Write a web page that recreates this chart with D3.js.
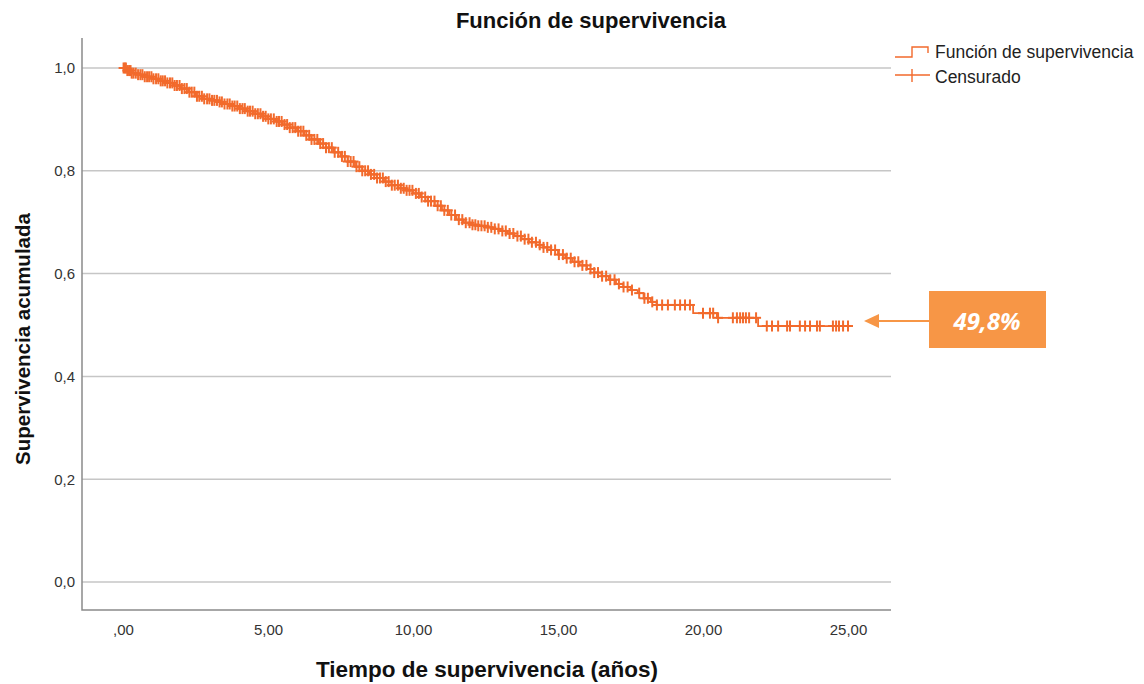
<!DOCTYPE html>
<html><head><meta charset="utf-8">
<script src="https://cdn.jsdelivr.net/npm/d3@7/dist/d3.min.js"></script>
<style>
html,body{margin:0;padding:0;background:#fff;}
svg{display:block;font-family:"Liberation Sans",Arial,sans-serif;}
</style></head><body>
<svg id="c" width="1144" height="684"></svg>
<script>
// Kaplan-Meier step data (time in years, cumulative survival)
const stepTimes = [0,0.15,0.3,0.5,0.75,1.0,1.25,1.5,1.75,2.0,2.25,2.5,2.75,3.0,3.25,3.5,3.75,4.0,4.25,4.5,4.75,5.0,5.25,5.5,5.75,6.0,6.25,6.5,6.75,7.0,7.25,7.5,7.75,8.0,8.25,8.5,8.75,9.0,9.25,9.5,9.75,10.0,10.25,10.5,10.75,11.0,11.25,11.5,11.75,12.0,12.25,12.5,12.75,13.0,13.25,13.5,13.75,14.0,14.25,14.5,14.75,15.0,15.25,15.5,15.75,16.0,16.25,16.5,16.75,17.0,17.25,17.5,17.75,17.95,18.2,18.4,19.66,20.48,21.9];
const stepSurv  = [1.000,0.995,0.990,0.987,0.983,0.979,0.975,0.971,0.966,0.960,0.953,0.945,0.940,0.937,0.934,0.930,0.926,0.921,0.916,0.911,0.906,0.901,0.896,0.890,0.884,0.877,0.869,0.861,0.853,0.845,0.836,0.828,0.818,0.808,0.800,0.793,0.786,0.779,0.772,0.766,0.762,0.756,0.749,0.741,0.732,0.723,0.714,0.705,0.699,0.695,0.693,0.690,0.687,0.683,0.678,0.673,0.667,0.661,0.656,0.651,0.646,0.637,0.630,0.623,0.616,0.609,0.602,0.595,0.588,0.580,0.574,0.568,0.562,0.552,0.545,0.539,0.523,0.514,0.498];
const endTime = 25.1;
const censorTimes = [0.02,0.06,0.1,0.15,0.21,0.26,0.3,0.36,0.44,0.52,0.6,0.67,0.75,0.83,0.9,0.98,1.05,1.14,1.22,1.3,1.37,1.45,1.53,1.62,1.7,1.78,1.86,1.95,2.03,2.12,2.2,2.29,2.37,2.46,2.55,2.63,2.72,2.8,2.9,2.98,3.07,3.15,3.24,3.33,3.41,3.5,3.6,3.68,3.77,3.85,3.94,4.03,4.12,4.2,4.3,4.38,4.47,4.56,4.65,4.74,4.83,4.92,5.01,5.1,5.2,5.3,5.38,5.47,5.57,5.66,5.75,5.85,5.94,6.04,6.13,6.22,6.32,6.42,6.5,6.6,6.7,6.8,6.9,7.0,7.1,7.2,7.3,7.42,7.55,7.65,7.75,7.85,7.95,8.05,8.15,8.25,8.35,8.45,8.55,8.66,8.76,8.86,8.96,9.06,9.16,9.27,9.37,9.48,9.58,9.68,9.78,9.88,9.98,10.1,10.2,10.3,10.42,10.52,10.62,10.74,10.85,10.96,11.08,11.2,11.32,11.45,11.58,11.7,11.82,11.95,12.05,12.15,12.25,12.36,12.47,12.58,12.7,12.82,12.95,13.08,13.2,13.33,13.46,13.6,13.72,13.85,13.98,14.1,14.24,14.37,14.5,14.63,14.76,14.9,15.03,15.17,15.3,15.44,15.57,15.7,15.84,15.98,16.12,16.25,16.38,16.52,16.66,16.8,16.95,17.1,17.26,17.4,17.55,17.8,17.98,18.1,18.25,18.41,18.59,18.79,19.03,19.21,19.38,19.55,20.0,20.24,20.35,20.52,21.03,21.17,21.28,21.38,21.48,21.59,21.83,22.2,22.38,22.59,22.9,23.0,23.34,23.52,23.69,23.93,24.03,24.48,24.59,24.69,24.83,25.0];
const xTicks = [0,5,10,15,20,25];
const xTickLabels = [",00","5,00","10,00","15,00","20,00","25,00"];
const yTicks = [0,0.2,0.4,0.6,0.8,1.0];
const yTickLabels = ["0,0","0,2","0,4","0,6","0,8","1,0"];
const titleText = "Función de supervivencia";
const xLabel = "Tiempo de supervivencia (años)";
const yLabel = "Supervivencia acumulada";
const legendLabels = ["Función de supervivencia","Censurado"];
const annotationText = "49,8%";

const svg = d3.select("#c");
const L = 82, R = 891, T = 38, B = 610;
const x = d3.scaleLinear().domain([0,25]).range([123,848]);
const y = d3.scaleLinear().domain([0,1]).range([582,68]);
const lineColor = "#F26A2C";
const annColor = "#F79646";

// gridlines
svg.append("g").selectAll("line").data(yTicks).join("line")
  .attr("x1",L).attr("x2",R).attr("y1",d=>y(d)).attr("y2",d=>y(d))
  .attr("stroke","#c6c6c6").attr("stroke-width",1.5);

// axes
const yAxis = d3.axisLeft(y).tickValues(yTicks).tickFormat((d,i)=>yTickLabels[i]).tickSize(0).tickPadding(7);
const gy = svg.append("g").attr("transform",`translate(${L},0)`).call(yAxis);
gy.select(".domain").remove();
gy.selectAll("text").attr("font-size",15).attr("fill","#333").attr("font-family","Liberation Sans, Arial, sans-serif");
const xAxis = d3.axisBottom(x).tickValues(xTicks).tickFormat((d,i)=>xTickLabels[i]).tickSize(0).tickPadding(14);
const gx = svg.append("g").attr("transform",`translate(0,${B})`).call(xAxis);
gx.select(".domain").remove();
gx.selectAll("text").attr("font-size",15).attr("fill","#333").attr("font-family","Liberation Sans, Arial, sans-serif");

svg.append("path").attr("d",`M${L},${T}V${B}H${R}`).attr("fill","none").attr("stroke","#8a8a8a").attr("stroke-width",1.5);

// survival step curve
const pts = stepTimes.map((t,i)=>[t,stepSurv[i]]);
pts.push([endTime, stepSurv[stepSurv.length-1]]);
const line = d3.line().x(d=>x(d[0])).y(d=>y(d[1])).curve(d3.curveStepAfter);
svg.append("path").datum(pts).attr("d",line).attr("fill","none").attr("stroke",lineColor).attr("stroke-width",1.8);

function survAt(t){
  let s = stepSurv[0];
  for(let i=0;i<stepTimes.length;i++){ if(stepTimes[i]<=t) s=stepSurv[i]; else break; }
  return s;
}
const cg = svg.append("g").attr("stroke",lineColor).attr("stroke-width",2);
censorTimes.forEach(t=>{
  const cx = x(t), cy = y(survAt(t));
  cg.append("line").attr("x1",cx-5).attr("x2",cx+5).attr("y1",cy).attr("y2",cy);
  cg.append("line").attr("x1",cx).attr("x2",cx).attr("y1",cy-5.5).attr("y2",cy+5.5);
});

// title & labels
svg.append("text").attr("x",591).attr("y",28).attr("text-anchor","middle")
  .attr("font-size",22).attr("font-weight","bold").attr("fill","#111").text(titleText);
svg.append("text").attr("x",487).attr("y",677).attr("text-anchor","middle")
  .attr("font-size",22.5).attr("font-weight","bold").attr("fill","#111").text(xLabel);
svg.append("text").attr("transform","translate(30,339) rotate(-90)").attr("text-anchor","middle")
  .attr("font-size",20.5).attr("font-weight","bold").attr("fill","#111").text(yLabel);

// legend
const lg = svg.append("g").attr("fill","none").attr("stroke",lineColor).attr("stroke-width",1.4);
lg.append("path").attr("d","M895,57H912V47H928V53");
lg.append("path").attr("d","M895,75H930M912,69V82");
svg.append("text").attr("x",935).attr("y",58).attr("font-size",17.5).attr("fill","#222").text(legendLabels[0]);
svg.append("text").attr("x",935).attr("y",83).attr("font-size",17.5).attr("fill","#222").text(legendLabels[1]);

// annotation
svg.append("rect").attr("x",929).attr("y",291).attr("width",117).attr("height",57).attr("fill",annColor);
svg.append("line").attr("x1",878).attr("x2",929).attr("y1",321).attr("y2",321).attr("stroke",annColor).attr("stroke-width",2);
svg.append("path").attr("d","M864,321L879,314L879,328Z").attr("fill",annColor);
svg.append("text").attr("x",987).attr("y",330).attr("text-anchor","middle")
  .attr("font-size",24).attr("font-weight","bold").attr("font-style","italic")
  .attr("font-family","Open Sans, Liberation Sans, sans-serif").attr("fill","#fff").text(annotationText);
</script>
</body></html>
